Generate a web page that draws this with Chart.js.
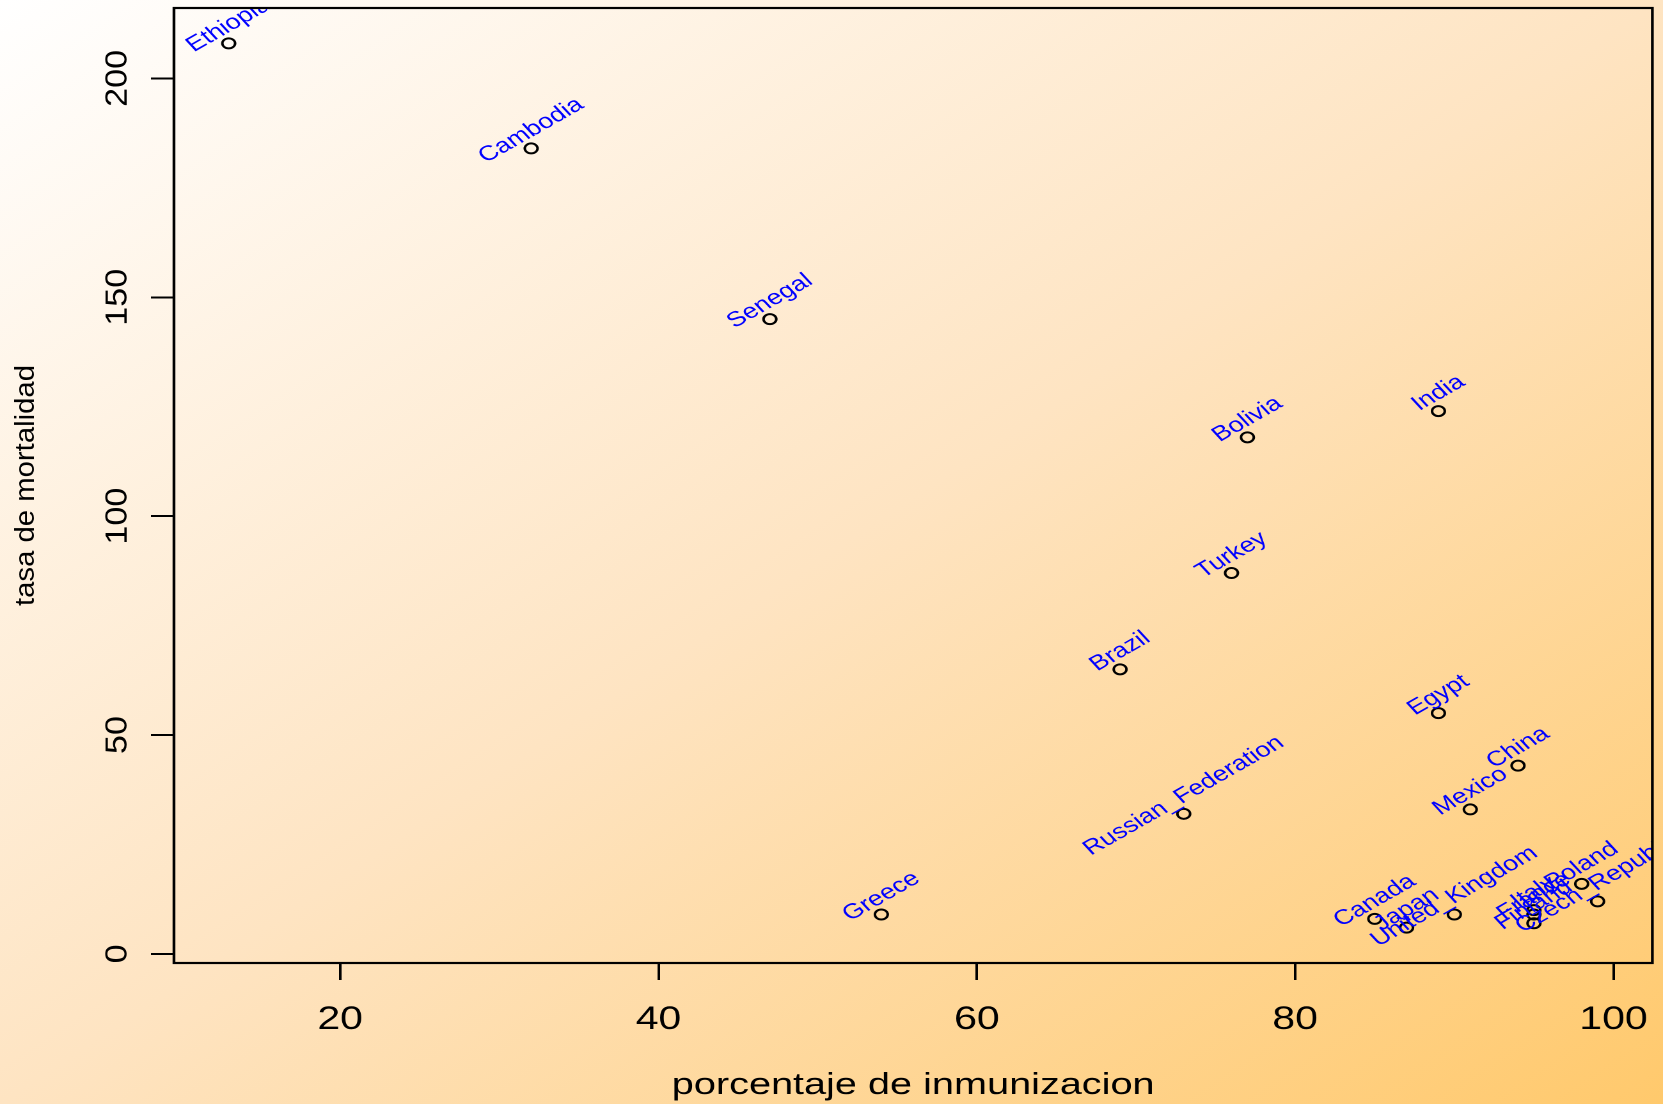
<!DOCTYPE html>
<html lang="es">
<head>
<meta charset="utf-8">
<title>tasa de mortalidad vs porcentaje de inmunizacion</title>
<script src="https://cdn.jsdelivr.net/npm/chart.js@4.4.1/dist/chart.umd.min.js"></script>
<style>
  html, body { margin: 0; padding: 0; overflow: hidden; }
  body {
    width: 1663px;
    height: 1104px;
    background: linear-gradient(to bottom right, #ffffff 0%, #fee4c2 50%, #ffc96c 100%);
  }
  /* the original R device was stretched sideways, so draw narrow and widen */
  .stretch { width: 1300px; height: 1104px; transform: scaleX(1.2792); transform-origin: 0 0; }
</style>
</head>
<body>
<div class="stretch"><canvas id="chart" width="1300" height="1104"></canvas></div>
<script>
// ============================================================
// Inmunizacion DPT vs mortalidad infantil (menores de 5), 20 paises
// ============================================================

var countries = ['Bolivia', 'Brazil', 'Cambodia', 'Canada', 'China', 'Czech_Republic',
  'Egypt', 'Ethiopia', 'Finland', 'France', 'Greece', 'India', 'Italy', 'Japan',
  'Mexico', 'Poland', 'Russian_Federation', 'Senegal', 'Turkey', 'United_Kingdom'];
var immunized = [77, 69, 32, 85, 94, 99, 89, 13, 95, 95, 54, 89, 95, 87, 91, 98, 73, 47, 76, 90];
var mortality = [118, 65, 184, 8, 43, 12, 55, 208, 7, 9, 9, 124, 10, 6, 33, 16, 32, 145, 87, 9];

var xTicks = [20, 40, 60, 80, 100];
var yTicks = [0, 50, 100, 150, 200];
var xRange = [9.56, 102.44];
var yRange = [-2.08, 216.08];

var xTitle = 'porcentaje de inmunizacion';
var yTitle = 'tasa de mortalidad';

var STRETCH = 1663 / 1300;
var SANS = '"Liberation Sans", Arial, Helvetica, sans-serif';

/* ---------- R-style decorations: labels, box, rotated y axis text ---------- */
var rPlotDecor = {
  id: 'rPlotDecor',
  afterDatasetsDraw: function (chart) {
    var ctx = chart.ctx;
    var area = chart.chartArea;
    var xs = chart.scales.x;
    var ys = chart.scales.y;

    // country names, rotated, clipped to the plot region
    ctx.save();
    ctx.beginPath();
    ctx.rect(area.left, area.top, area.right - area.left, area.bottom - area.top);
    ctx.clip();
    ctx.fillStyle = '#0000ff';
    ctx.font = '21px ' + SANS;
    ctx.textAlign = 'center';
    ctx.textBaseline = 'middle';
    countries.forEach(function (name, i) {
      var px = xs.getPixelForValue(immunized[i]);
      var py = ys.getPixelForValue(mortality[i]);
      ctx.save();
      ctx.translate(px, py - 18);
      ctx.rotate(-36 * Math.PI / 180);
      ctx.fillText(name, 0, 0);
      ctx.restore();
    });
    ctx.restore();

    // box around the plot region
    ctx.save();
    ctx.strokeStyle = '#000';
    ctx.lineWidth = 2.2;
    ctx.strokeRect(area.left, area.top, area.right - area.left, area.bottom - area.top);
    ctx.restore();

    // y tick labels (vertical, reading upwards)
    ctx.save();
    ctx.fillStyle = '#000';
    ctx.font = '31px ' + SANS;
    ctx.textAlign = 'center';
    ctx.textBaseline = 'alphabetic';
    ys.ticks.forEach(function (t) {
      var py = ys.getPixelForValue(t.value);
      ctx.save();
      ctx.translate(90.3, py);
      ctx.scale(1 / STRETCH, 1);
      ctx.rotate(-Math.PI / 2);
      ctx.scale(1.1, 1);
      ctx.fillText(String(t.value), 0, 0.358 * 31);
      ctx.restore();
    });
    ctx.restore();

    // y axis title
    ctx.save();
    ctx.fillStyle = '#000';
    ctx.font = '27px ' + SANS;
    ctx.textAlign = 'center';
    ctx.textBaseline = 'alphabetic';
    var w = ctx.measureText(yTitle).width;
    ctx.translate(18.6, (area.top + area.bottom) / 2);
    ctx.scale(1 / STRETCH, 1);
    ctx.rotate(-Math.PI / 2);
    ctx.scale(241 / w, 1);
    ctx.fillText(yTitle, 0, 0.365 * 27);
    ctx.restore();
  }
};

Chart.defaults.color = '#000';
Chart.defaults.font.family = SANS;

var points = countries.map(function (c, i) {
  return { x: immunized[i], y: mortality[i] };
});

new Chart(document.getElementById('chart').getContext('2d'), {
  type: 'scatter',
  data: {
    datasets: [{
      label: 'paises',
      data: points,
      pointStyle: 'circle',
      pointRadius: 5,
      pointHoverRadius: 5,
      borderWidth: 2,
      borderColor: '#000',
      backgroundColor: 'rgba(0,0,0,0)'
    }]
  },
  options: {
    responsive: false,
    devicePixelRatio: 2,
    animation: false,
    events: [],
    layout: { padding: { top: 8, right: 8.3, left: 0, bottom: 0 } },
    plugins: { legend: { display: false }, tooltip: { enabled: false } },
    scales: {
      x: {
        type: 'linear',
        min: xRange[0],
        max: xRange[1],
        afterBuildTicks: function (scale) {
          scale.ticks = xTicks.map(function (v) { return { value: v }; });
        },
        afterFit: function (scale) {
          scale.height = 141;
          scale.paddingLeft = 0;
          scale.paddingRight = 0;
        },
        border: { display: false },
        grid: { drawOnChartArea: false, drawTicks: true, tickLength: 17, color: '#000', lineWidth: 2 },
        ticks: { padding: 21, maxRotation: 0, font: { size: 32 }, color: '#000' },
        title: {
          display: true,
          text: xTitle,
          font: { size: 31 },
          color: '#000',
          padding: { top: 0, bottom: 0 }
        }
      },
      y: {
        type: 'linear',
        min: yRange[0],
        max: yRange[1],
        afterBuildTicks: function (scale) {
          scale.ticks = yTicks.map(function (v) { return { value: v }; });
        },
        afterFit: function (scale) {
          scale.width = 136;
          scale.paddingTop = 0;
          scale.paddingBottom = 0;
        },
        border: { display: false },
        grid: { drawOnChartArea: false, drawTicks: true, tickLength: 18, color: '#000', lineWidth: 2 },
        ticks: { display: false }
      }
    }
  },
  plugins: [rPlotDecor]
});
</script>
</body>
</html>
